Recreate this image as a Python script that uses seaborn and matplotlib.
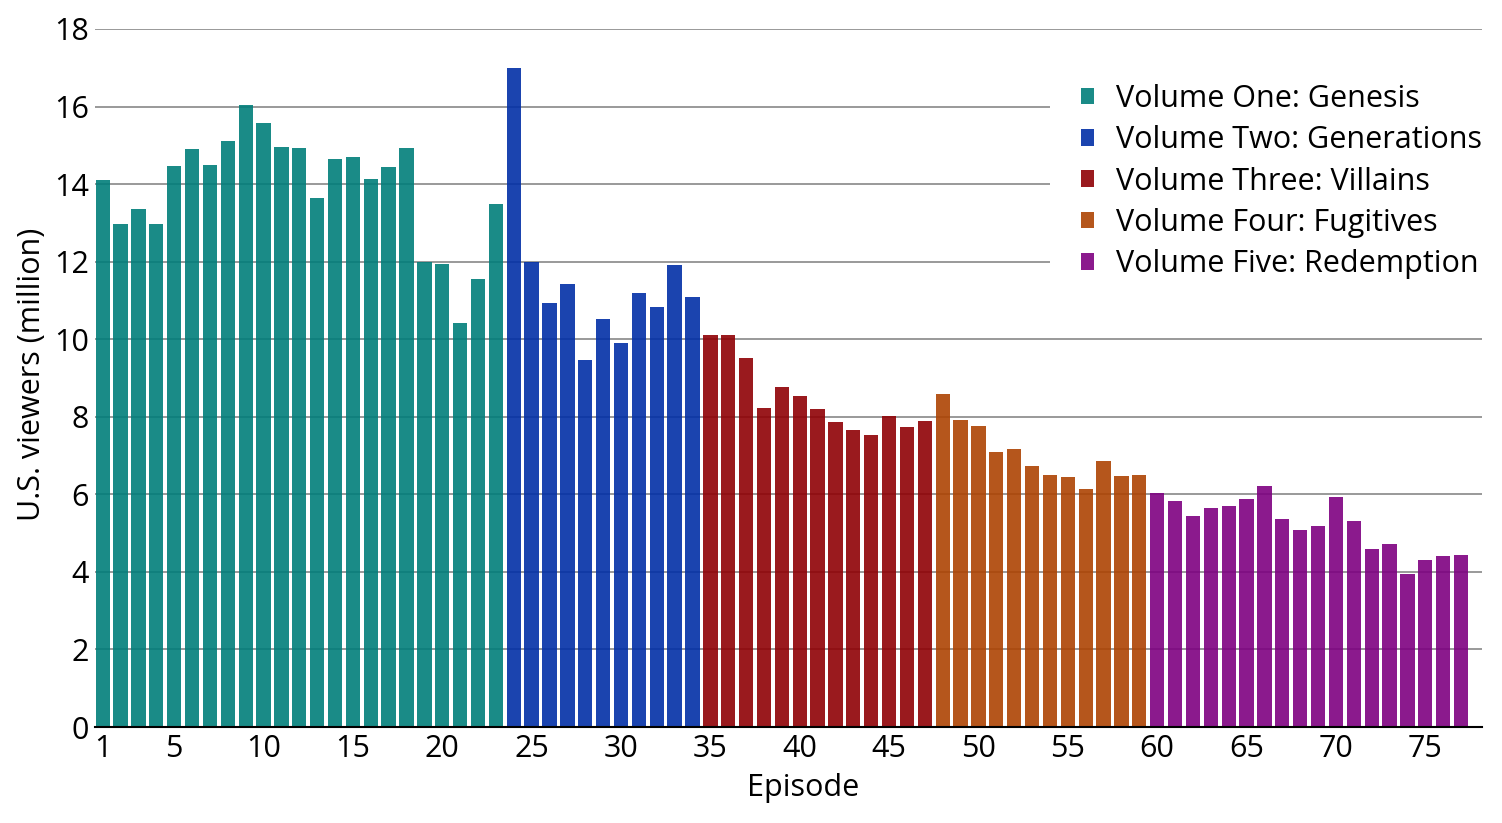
import numpy as np
import matplotlib.pyplot as plt
import seaborn as sns
import pandas as pd

# viewers per episode (millions), grouped by volume
vol1 = [14.11, 12.98, 13.36, 12.98, 14.47, 14.91, 14.49, 15.10, 16.05, 15.58,
        14.96, 14.93, 13.65, 14.64, 14.70, 14.12, 14.44, 14.93, 11.98, 11.94,
        10.41, 11.56, 13.49]
vol2 = [16.99, 11.98, 10.94, 11.43, 9.47, 10.53, 9.91, 11.18, 10.83, 11.91, 11.08]
vol3 = [10.11, 10.11, 9.52, 8.22, 8.77, 8.54, 8.21, 7.87, 7.67, 7.54, 8.03,
        7.74, 7.90]
vol4 = [8.58, 7.92, 7.76, 7.10, 7.18, 6.73, 6.50, 6.45, 6.14, 6.86, 6.48, 6.50]
vol5 = [6.04, 5.84, 5.43, 5.66, 5.70, 5.89, 6.21, 5.37, 5.09, 5.19, 5.92, 5.32,
        4.60, 4.73, 3.95, 4.31, 4.42, 4.43]

volume_names = ['Volume One: Genesis', 'Volume Two: Generations',
                'Volume Three: Villains', 'Volume Four: Fugitives',
                'Volume Five: Redemption']
volume_colors = ['#017e7a', '#0230a7', '#8f0105', '#ad4403', '#7e0181']
xtick_labels = [1, 5, 10, 15, 20, 25, 30, 35, 40, 45, 50, 55, 60, 65, 70, 75]

rows = []
for name, vals in zip(volume_names, [vol1, vol2, vol3, vol4, vol5]):
    for v in vals:
        rows.append((name, v))
df = pd.DataFrame(rows, columns=['volume', 'viewers'])
df['episode'] = np.arange(1, len(df) + 1)

sns.set_style('white')
plt.rcParams['font.family'] = ['Open Sans', 'DejaVu Sans']
plt.rcParams['text.color'] = 'black'
plt.rcParams['axes.labelcolor'] = 'black'

fig = plt.figure(figsize=(15.02, 8.23), dpi=100)
ax = fig.add_axes([0.063, 0.1166, 0.924, 0.8482])

sns.barplot(data=df, x='episode', y='viewers', hue='volume',
            palette=dict(zip(volume_names, volume_colors)), saturation=1,
            native_scale=True, dodge=False, width=0.8, alpha=0.9,
            linewidth=0, ax=ax)

ax.set_xlim(0.55, 78.2)
ax.set_ylim(0, 18)
ax.set_yticks(range(0, 19, 2))
ax.set_xticks(xtick_labels)
ax.set_xticklabels([str(t) for t in xtick_labels])
ax.yaxis.grid(True, color='#999999', linewidth=1.4)
ax.set_axisbelow(True)
for s in ['top', 'right', 'left']:
    ax.spines[s].set_visible(False)
ax.spines['bottom'].set_color('black')
ax.spines['bottom'].set_linewidth(1.5)
ax.tick_params(axis='both', length=0, labelsize=22, colors='black')
ax.tick_params(axis='y', pad=4)
ax.tick_params(axis='x', pad=5)
ax.set_xlabel('Episode', fontsize=22)
ax.set_ylabel('U.S. viewers (million)', fontsize=22)
ax.xaxis.set_label_coords(0.5105, -0.066, transform=ax.transAxes)
ax.yaxis.set_label_coords(-0.034, 0.505, transform=ax.transAxes)

handles, labels = ax.get_legend_handles_labels()
leg = ax.legend(handles, labels, loc='upper left', bbox_to_anchor=(0.6885, 0.965),
                fontsize=22, frameon=True, facecolor='white', edgecolor='none',
                framealpha=1, handlelength=0.45, handleheight=0.45,
                handletextpad=0.7, labelspacing=0.37, borderpad=1.0,
                borderaxespad=0)

plt.savefig('out.png', dpi=100)
